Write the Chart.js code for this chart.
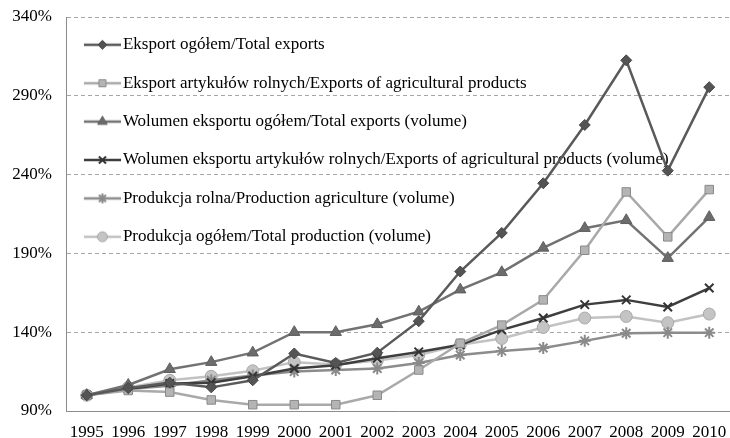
<!DOCTYPE html>
<html>
<head>
<meta charset="utf-8">
<script src="https://cdn.jsdelivr.net/npm/chart.js@4"></script>
<style>
  html, body { margin: 0; padding: 0; background: #fff; overflow: hidden; }
  #wrap { width: 738px; height: 438px; }
  canvas { display: block; }
</style>
</head>
<body>
<div id="wrap"><canvas id="chart"></canvas></div>
<script>
const years = ['1995', '1996', '1997', '1998', '1999', '2000', '2001', '2002',
               '2003', '2004', '2005', '2006', '2007', '2008', '2009', '2010'];

const eksportOgolem = [100, 104.5, 108, 105, 109.5, 126.5, 120.5, 127, 147, 178.5, 203, 234.5, 271.5, 312.5, 242.5, 295.5];
const eksportRolne = [100, 103, 102, 97, 94, 94, 94, 100, 116, 133, 144.5, 160.5, 192, 229, 200.5, 230.5];
const wolumenOgolem = [100, 106.5, 116.5, 121, 127, 140, 140, 145, 153, 167, 178, 193.5, 206, 211, 187, 213];
const wolumenRolne = [100, 104, 107.5, 108, 112, 117, 119, 123.5, 127.5, 132, 141.5, 149, 157.5, 160.5, 156, 168];
const produkcjaRolna = [100, 104, 106, 109.5, 112.5, 115, 116, 117, 120.5, 125.5, 128, 130, 134.5, 139.3, 139.7, 139.7];
const produkcjaOgolem = [100, 105, 109.5, 112, 115.5, 121, 119.5, 122, 125.5, 132, 136, 143, 149, 150, 146, 151.5];

const seriesNames = [
    'Eksport ogółem/Total exports',
    'Eksport artykułów rolnych/Exports of agricultural products',
    'Wolumen eksportu ogółem/Total exports (volume)',
    'Wolumen eksportu artykułów rolnych/Exports of agricultural products (volume)',
    'Produkcja rolna/Production agriculture (volume)',
    'Produkcja ogółem/Total production (volume)'
];

const FONT = '"Liberation Serif", "Times New Roman", serif';

function makeSet(label, data, line, fill, edge, style, radius, bw) {
    return {
        label: label,
        data: data,
        borderColor: line,
        borderWidth: 2.5,
        pointStyle: style,
        pointRadius: radius,
        pointHoverRadius: radius,
        pointBackgroundColor: fill,
        pointBorderColor: edge,
        pointBorderWidth: bw,
        tension: 0,
        fill: false
    };
}

const datasets = [
    makeSet(seriesNames[0], eksportOgolem, '#5a5a5a', '#545454', '#454545', 'rectRot', 5.5, 1),
    makeSet(seriesNames[1], eksportRolne, '#a9a9a9', '#b4b4b4', '#8a8a8a', 'rect', 6, 1),
    makeSet(seriesNames[2], wolumenOgolem, '#727272', '#6c6c6c', '#5e5e5e', 'triangle', 6.5, 1),
    makeSet(seriesNames[3], wolumenRolne, '#3e3e3e', '#3e3e3e', '#333333', 'crossRot', 6, 2),
    makeSet(seriesNames[4], produkcjaRolna, '#8c8c8c', '#8c8c8c', '#8a8a8a', 'star', 6, 2),
    makeSet(seriesNames[5], produkcjaOgolem, '#c2c2c2', '#c4c4c4', '#a8a8a8', 'circle', 6, 1)
];

// legend symbol: short line with the marker in the middle
function legendSymbol(ds) {
    const c = document.createElement('canvas');
    c.width = 43;
    c.height = 16;
    const g = c.getContext('2d');
    g.strokeStyle = ds.borderColor;
    g.lineWidth = 2.5;
    g.beginPath();
    g.moveTo(6, 8);
    g.lineTo(43, 8);
    g.stroke();
    g.fillStyle = ds.pointBackgroundColor;
    g.strokeStyle = ds.pointBorderColor;
    g.lineWidth = ds.pointBorderWidth;
    Chart.helpers.drawPoint(g, {
        pointStyle: ds.pointStyle,
        radius: ds.pointRadius - 1,
        rotation: 0,
        borderWidth: ds.pointBorderWidth
    }, 24.5, 8);
    return c;
}

// nudge the in-plot legend to where the original has it
const legendNudge = {
    id: 'legendNudge',
    afterLayout(chart) {
        const lg = chart.legend;
        if (!lg) return;
        lg.top += 14.9; lg.bottom += 14.9;
        lg.left -= 3; lg.right -= 3;
    }
};

const ctx = document.getElementById('chart').getContext('2d');

new Chart(ctx, {
    type: 'line',
    data: { labels: years, datasets: datasets },
    plugins: [legendNudge],
    options: {
        responsive: true,
        maintainAspectRatio: false,
        animation: false,
        layout: { padding: { top: 17, left: 0, right: 0, bottom: 0 } },
        plugins: {
            tooltip: { enabled: false },
            legend: {
                position: 'chartArea',
                align: 'start',
                labels: {
                    usePointStyle: true,
                    pointStyleWidth: 30,
                    boxHeight: 14,
                    padding: 21.4,
                    color: '#000',
                    font: { family: FONT, size: 17 },
                    generateLabels: function (chart) {
                        return chart.data.datasets.map(function (ds, i) {
                            return {
                                text: ds.label,
                                pointStyle: legendSymbol(ds),
                                fillStyle: ds.borderColor,
                                strokeStyle: ds.borderColor,
                                lineWidth: 0,
                                hidden: false,
                                datasetIndex: i
                            };
                        });
                    }
                }
            }
        },
        scales: {
            x: {
                offset: true,
                grid: { display: false, drawTicks: true, tickLength: 11 },
                border: { display: true, color: '#8c8c8c', width: 1 },
                ticks: {
                    color: '#000',
                    maxRotation: 0,
                    autoSkip: false,
                    padding: 0,
                    font: { family: FONT, size: 17 }
                },
                afterFit: function (scale) { scale.height = 27; }
            },
            y: {
                min: 90,
                max: 340,
                grid: {
                    color: function (c) { return c.tick && c.tick.value === 90 ? 'rgba(0,0,0,0)' : '#a6a6a6'; },
                    lineWidth: 1,
                    drawTicks: true,
                    tickLength: 14,
                    tickColor: 'rgba(0,0,0,0)'
                },
                border: { display: true, color: '#8c8c8c', width: 1, dash: [4, 3] },
                ticks: {
                    stepSize: 50,
                    color: '#000',
                    padding: 0,
                    font: { family: FONT, size: 17 },
                    callback: function (v) { return v + '%'; }
                },
                afterFit: function (scale) { scale.width = 66; }
            }
        }
    }
});
</script>
</body>
</html>
